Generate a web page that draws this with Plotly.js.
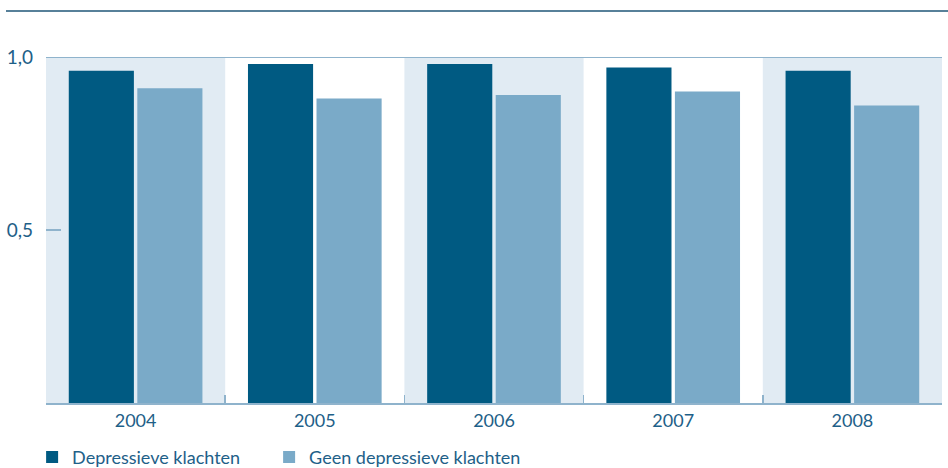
<!DOCTYPE html>
<html>
<head>
<meta charset="utf-8">
<script src="https://cdn.plot.ly/plotly-3.0.1.min.js"></script>
<style>html,body{margin:0;padding:0;background:#fff}#chart{width:948px;height:468px}</style>
</head>
<body>
<div id="chart"></div>
<script>
var years = ['2004', '2005', '2006', '2007', '2008'];
var seriesNames = ['Depressieve klachten', 'Geen depressieve klachten'];
var depressief = [0.96, 0.98, 0.98, 0.97, 0.96];
var geenDepressief = [0.91, 0.88, 0.89, 0.90, 0.86];
var yTicks = [0.5, 1.0];
var yTickLabels = ['0,5', '1,0'];

var darkBlue = '#005a82';
var lightBlue = '#7aaac8';
var bandColor = '#e1ebf3';
var textColor = '#1e6088';
var fontFam = 'Lato, "Open Sans", "DejaVu Sans", sans-serif';

var traces = [
  {type: 'bar', x: years, y: depressief, name: seriesNames[0], marker: {color: darkBlue}, hoverinfo: 'y', legend: 'legend'},
  {type: 'bar', x: years, y: geenDepressief, name: seriesNames[1], marker: {color: lightBlue}, hoverinfo: 'y', legend: 'legend2'}
];

var shapes = [];
years.forEach(function (y, i) {
  if (i % 2 === 0) {
    shapes.push({type: 'rect', xref: 'x', yref: 'paper', x0: i - 0.5, x1: i + 0.5, y0: 0, y1: 1,
      fillcolor: bandColor, line: {width: 0}, layer: 'below'});
  }
});
// top reference line at 1,0
shapes.push({type: 'line', xref: 'paper', yref: 'y', x0: 0, x1: 1, y0: 1, y1: 1,
  line: {color: '#8fb3cc', width: 2}, layer: 'above'});
// rule at the top of the figure
shapes.push({type: 'line', xref: 'paper', yref: 'paper', x0: -40 / 896, x1: 1.01, y0: 1 + 46 / 346, y1: 1 + 46 / 346,
  line: {color: '#1f5677', width: 1.3}});

var legendBase = {orientation: 'h', xanchor: 'left', y: -0.1035, yanchor: 'top',
  font: {family: fontFam, size: 18, color: textColor}, bgcolor: 'rgba(0,0,0,0)'};

var layout = {
  width: 948, height: 468,
  margin: {l: 46, r: 6, t: 57, b: 65, autoexpand: false},
  paper_bgcolor: '#fff', plot_bgcolor: 'rgba(0,0,0,0)',
  barmode: 'group', bargap: 0.235, bargroupgap: 0.05,
  font: {family: fontFam, size: 18, color: textColor},
  showlegend: true,
  legend: Object.assign({}, legendBase, {x: -0.0155}),
  legend2: Object.assign({}, legendBase, {x: -0.0155 + 237 / 896}),
  xaxis: {type: 'category', showgrid: false, zeroline: false,
    showline: true, linecolor: '#8fb3cc', linewidth: 2,
    ticks: 'inside', tickson: 'boundaries', ticklen: 8, tickcolor: '#8fb3cc', tickwidth: 1.5,
    tickfont: {family: fontFam, size: 18, color: textColor}, fixedrange: true},
  yaxis: {range: [0, 1], showgrid: false, zeroline: false, showline: false,
    tickvals: yTicks, ticktext: yTickLabels,
    ticks: 'inside', ticklen: 15, tickcolor: '#8fb3cc', tickwidth: 2,
    ticklabelstandoff: 12,
    tickfont: {family: fontFam, size: 19, color: textColor}, fixedrange: true},
  shapes: shapes
};

Plotly.newPlot('chart', traces, layout, {displayModeBar: false, staticPlot: true});
</script>
</body>
</html>
